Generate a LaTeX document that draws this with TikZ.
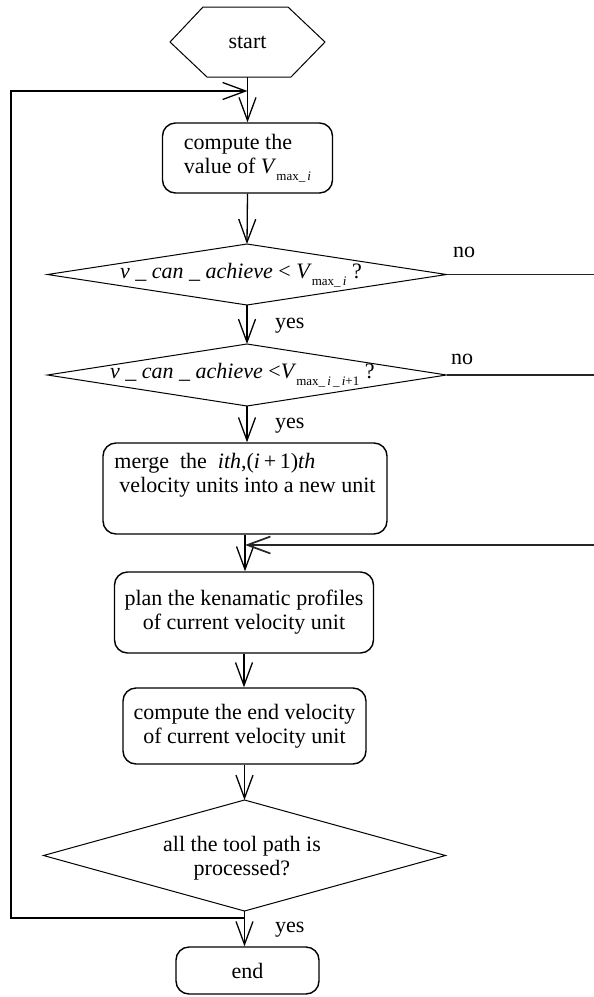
\documentclass[tikz,border=0pt]{standalone}
\usepackage{fontspec}
\setmainfont{Liberation Serif}
\usetikzlibrary{arrows.meta}
\newcommand\lowsub[1]{\raisebox{-7pt}{\fontsize{13}{13}\selectfont #1}}
\begin{document}
\begin{tikzpicture}[x=1pt,y=-1pt,
  font=\fontsize{22}{24}\selectfont,
  box/.style={draw, line width=1.4pt, rounded corners=13pt, inner sep=0pt, align=center},
  shapeline/.style={line width=1pt},
  conn/.style={line width=1.3pt},
  thickconn/.style={line width=1.7pt, draw=black!85},
  arr/.style={conn, -{Straight Barb[length=23pt,width=17pt]}},
  ghost/.style={inner sep=0pt, outer sep=0pt},
  lbl/.style={anchor=base west, inner sep=0pt}]
\useasboundingbox (0,0) rectangle (594,997);

% start hexagon
\node[ghost, minimum width=155pt, minimum height=70pt] (start) at (247.5,42) {start};
\draw[shapeline] (start.west) -- ([xshift=33pt]start.north west) -- ([xshift=-37pt]start.north east)
  -- (start.east) -- ([xshift=-34pt]start.south east) -- ([xshift=37pt]start.south west) -- cycle;

% box 1
\node[box, minimum width=170pt, minimum height=70pt, align=left] (b1) at (247.5,158)
  {compute the\\value of \textit{V}\lowsub{max\_\,\textit{i}}};

% diamond 1
\node[ghost, minimum width=399pt, minimum height=61pt] (d1) at (247,274.5) {};
\draw[shapeline] (d1.north) -- (d1.east) -- (d1.south) -- (d1.west) -- cycle;
\node[lbl] (d1t) at (120,278)
  {\textit{v} \_ \textit{can} \_ \textit{achieve} < \textit{V}\lowsub{max\_\,\textit{i}} ?};

% diamond 2
\node[ghost, minimum width=399pt, minimum height=62pt] (d2) at (247,375) {};
\draw[shapeline] (d2.north) -- (d2.east) -- (d2.south) -- (d2.west) -- cycle;
\node[lbl] (d2t) at (110,378)
  {\textit{v} \_ \textit{can} \_ \textit{achieve} <\textit{V}\lowsub{max\_\,\textit{i}\,\_\,\textit{i}+1} ?};

% merge box
\node[box, minimum width=284pt, minimum height=91pt, align=left] (b2) at (245,488.5)
  {merge\ \ the\ \ \textit{ith},(\textit{i}\,+\,1)\textit{th}\\\hspace{5pt}velocity units into a new unit\\\strut};

% plan box
\node[box, minimum width=259pt, minimum height=81pt] (b3) at (244,612.5)
  {plan the kenamatic profiles\\of current velocity unit};

% compute end box
\node[box, minimum width=243pt, minimum height=76pt] (b4) at (244.5,726)
  {compute the end velocity\\of current velocity unit};

% diamond 3
\node[ghost, minimum width=402pt, minimum height=111pt] (d3) at (244.5,855.5) {};
\draw[shapeline] (d3.north) -- (d3.east) -- (d3.south) -- (d3.west) -- cycle;
\node[align=center, inner sep=0pt] (d3t) at (242,858) {all the tool path is\\processed?};

% end box
\node[box, minimum width=143pt, minimum height=47pt] (e) at (247.5,970.5) {end};

% labels
\node[lbl] (y1) at (275,328) {yes};
\node[lbl] (y2) at (275,428) {yes};
\node[lbl] (y3) at (275,932) {yes};
\node[lbl] (n1) at (453,257) {no};
\node[lbl] (n2) at (451,364) {no};

% coordinates
\coordinate (j1) at (247.5,91);
\coordinate (j2) at (245,545);
\coordinate (j3) at (244.5,918);
\coordinate (L1) at (11,918);
\coordinate (L2) at (11,91);
\coordinate (r1) at (594,274.5);
\coordinate (r2) at (594,375);
\coordinate (r3) at (594,545);

% connectors
\draw[arr] (start.south) -- (start.south |- b1.north);
\draw[arr] (b1.south) -- (d1.north);
\draw[arr] (d1.south) -- (d2.north);
\draw[arr] (d2.south) -- (d2.south |- b2.north);
\draw[arr] (b2.south) -- (b2.south |- b3.north);
\draw[arr] (b3.south) -- (b3.south |- b4.north);
\draw[arr] (b4.south) -- (d3.north);
\draw[arr] (d3.south) -- (d3.south |- e.north);
\draw[thickconn] (d1.east) -- (r1);
\draw[thickconn] (d2.east) -- (r2);
\draw[thickconn, -{Straight Barb[length=23pt,width=17pt]}] (r3) -- (j2);
\draw[arr] (j3) -- (L1) -- (L2) -- (j1);
\end{tikzpicture}
\end{document}
